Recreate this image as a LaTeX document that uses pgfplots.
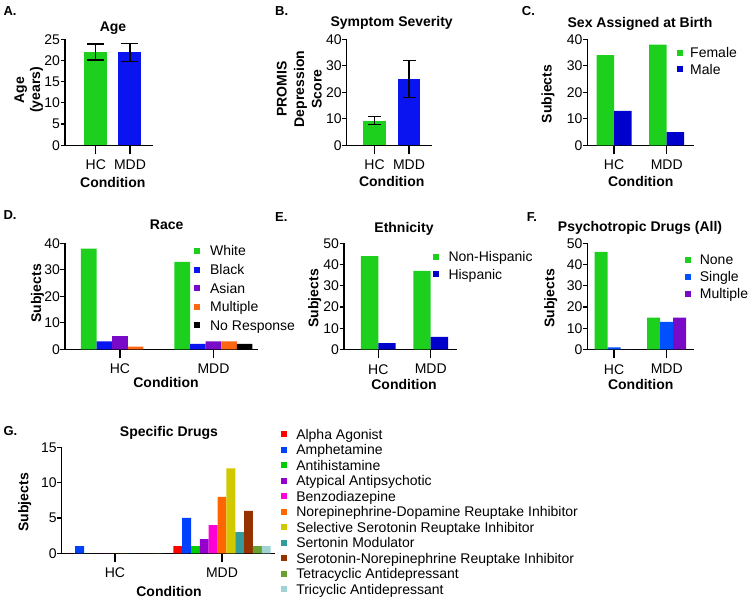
\documentclass[border=0pt]{standalone}
\usepackage{fontspec}
\setmainfont{Liberation Sans}
\usepackage{pgfplots}
\pgfplotsset{compat=1.18}

% colours
\definecolor{gGreen}{RGB}{30,208,30}
\definecolor{gBlue}{RGB}{10,20,240}
\definecolor{gNavy}{RGB}{0,0,205}
\definecolor{gPurple}{RGB}{120,10,200}
\definecolor{gOrange}{RGB}{255,102,20}
\definecolor{gSingle}{RGB}{0,80,255}
\definecolor{dRed}{RGB}{255,0,0}
\definecolor{dBlue}{RGB}{0,64,255}
\definecolor{dGreen}{RGB}{0,204,0}
\definecolor{dPurple}{RGB}{150,0,205}
\definecolor{dMagenta}{RGB}{255,0,215}
\definecolor{dOrange}{RGB}{255,102,0}
\definecolor{dYellow}{RGB}{210,200,0}
\definecolor{dTeal}{RGB}{50,155,155}
\definecolor{dBrown}{RGB}{150,50,0}
\definecolor{dOlive}{RGB}{105,160,50}
\definecolor{dLight}{RGB}{160,212,212}

\newcommand\fs{\fontsize{14}{16}\selectfont}

\pgfplotsset{
  sqleg/.style={legend image code/.code={\fill[##1] (0pt,-3pt) rectangle (6pt,3pt);}},
  bb/.style={fill=#1, draw=none, sqleg},
  gp/.style={
    scale only axis, anchor=south west,
    axis lines=left, axis line style={-, line width=1.2pt},
    ymin=0, enlargelimits=false, tick align=outside,
    xtick={0,1}, xticklabels={HC,MDD},
    xtick style={line width=1.2pt, black, /pgfplots/major tick length=9pt},
    ytick style={line width=1.2pt, black, /pgfplots/major tick length=4.5pt},
    minor tick num=0,
    tick label style={font=\fs},
    xticklabel style={yshift=-7pt},
    yticklabel style={inner xsep=0.5pt},
    /pgf/number format/assume math mode=true,
    legend cell align=left,
    legend style={draw=none, fill=none, inner sep=0pt, anchor=north west,
      nodes={inner sep=0pt, text height=12pt, text depth=2pt, font=\fs}},
  },
  eb/.style={error bars/.cd, y dir=both, y explicit,
    error bar style={line width=1.2pt, black},
    error mark options={rotate=90, mark size=#1, line width=1.2pt, black}},
}
\tikzset{lbl/.style={font=\bfseries\fs, inner sep=0pt, text height=10pt, text depth=0pt},
  let/.style={font=\bfseries\fontsize{13}{15}\selectfont, inner sep=0pt, anchor=west}}

\begin{document}
\begin{tikzpicture}
\useasboundingbox (0,0) rectangle (750pt,600pt);

% A. Age
\begin{axis}[gp, at={(65pt,454.7pt)}, width=87.7pt, height=106pt,
  xmin=-0.9006, xmax=1.664, ymax=25, ytick={0,5,...,25}, ybar]
\addplot[bb=gGreen, bar width=23pt, bar shift=0pt, eb=8.5pt] coordinates {(0,22) +- (0,1.9)};
\addplot[bb=gBlue, bar width=23pt, bar shift=0pt, eb=8.5pt] coordinates {(1,21.9) +- (0,2.1)};
\end{axis}

% B. Symptom severity
\begin{axis}[gp, at={(346.7pt,454.7pt)}, width=85pt, height=106pt,
  xmin=-0.806, xmax=1.658, ymax=40, ytick={0,10,...,40}, ybar]
\addplot[bb=gGreen, bar width=22.5pt, bar shift=0pt, eb=6.5pt] coordinates {(0,9.3) +- (0,1.5)};
\addplot[bb=gBlue, bar width=22.5pt, bar shift=0pt, eb=6.5pt] coordinates {(1,25) +- (0,6.9)};
\end{axis}

% C. Sex
\begin{axis}[gp, at={(587.3pt,454.7pt)}, width=106.7pt, height=106pt,
  xmin=-0.507, xmax=1.518, ymax=40, ytick={0,10,...,40}, ybar=0pt, bar width=17.5pt,
  legend style={at={(0.838,0.940)}, row sep=2.3pt, column sep=7.3pt}]
\addplot[bb=gGreen] coordinates {(0,34) (1,38)};
\addplot[bb=gNavy] coordinates {(0,13) (1,5)};
\legend{Female,Male}
\end{axis}

% D. Race
\begin{axis}[gp, at={(65pt,250.7pt)}, width=193pt, height=106pt,
  xmin=-0.588, xmax=1.476, ymax=40, ytick={0,10,...,40}, ybar=0pt, bar width=15.6pt,
  legend style={at={(0.668,0.996)}, row sep=4.6pt, column sep=10pt}]
\addplot[bb=gGreen] coordinates {(0,38) (1,33)};
\addplot[bb=gBlue] coordinates {(0,3) (1,2)};
\addplot[bb=gPurple] coordinates {(0,5) (1,3)};
\addplot[bb=gOrange] coordinates {(0,1) (1,3)};
\addplot[bb=black] coordinates {(0,0) (1,2)};
\legend{White,Black,Asian,Multiple,No Response}
\end{axis}

% E. Ethnicity
\begin{axis}[gp, at={(344pt,250.5pt)}, width=113.3pt, height=106.2pt,
  xmin=-0.655, xmax=1.508, ymax=50, ytick={0,10,...,50}, ybar=0pt, bar width=17.4pt,
  legend style={at={(0.7855,0.940)}, row sep=3.3pt, column sep=9.3pt}]
\addplot[bb=gGreen] coordinates {(0,44) (1,37)};
\addplot[bb=gNavy] coordinates {(0,3) (1,6)};
\legend{Non-Hispanic,Hispanic}
\end{axis}

% F. Psychotropic drugs
\begin{axis}[gp, at={(587.3pt,250.5pt)}, width=106.7pt, height=106.2pt,
  xmin=-0.507, xmax=1.518, ymax=50, ytick={0,10,...,50}, ybar=0pt, bar width=13pt,
  legend style={at={(0.916,0.915)}, row sep=3pt, column sep=8.6pt}]
\addplot[bb=gGreen] coordinates {(0,46) (1,15)};
\addplot[bb=gSingle] coordinates {(0,1) (1,13)};
\addplot[bb=gPurple] coordinates {(0,0) (1,15)};
\legend{None,Single,Multiple}
\end{axis}

% G. Specific drugs
\begin{axis}[gp, at={(61.7pt,46.7pt)}, width=213.3pt, height=106pt,
  xmin=-0.498, xmax=1.495, ymax=15, ytick={0,5,10,15}, ybar=0pt, bar width=8.85pt,
  legend style={at={(1.027,1.192)}, row sep=1.5pt, column sep=9.3pt}]
\addplot[bb=dRed] coordinates {(0,0) (1,1)};
\addplot[bb=dBlue] coordinates {(0,1) (1,5)};
\addplot[bb=dGreen] coordinates {(0,0) (1,1)};
\addplot[bb=dPurple] coordinates {(0,0) (1,2)};
\addplot[bb=dMagenta] coordinates {(0,0) (1,4)};
\addplot[bb=dOrange] coordinates {(0,0) (1,8)};
\addplot[bb=dYellow] coordinates {(0,0) (1,12)};
\addplot[bb=dTeal] coordinates {(0,0) (1,3)};
\addplot[bb=dBrown] coordinates {(0,0) (1,6)};
\addplot[bb=dOlive] coordinates {(0,0) (1,1)};
\addplot[bb=dLight] coordinates {(0,0) (1,1)};
\legend{Alpha Agonist,Amphetamine,Antihistamine,Atypical Antipsychotic,Benzodiazepine,
  Norepinephrine-Dopamine Reuptake Inhibitor,Selective Serotonin Reuptake Inhibitor,
  Sertonin Modulator,Serotonin-Norepinephrine Reuptake Inhibitor,
  Tetracyclic Antidepressant,Tricyclic Antidepressant}
\end{axis}

% panel letters, titles and axis labels
\node[let] at (3.3pt,588.5pt) {A.};
\node[let] at (275pt,588.5pt) {B.};
\node[let] at (521.7pt,588.5pt) {C.};
\node[let] at (3.3pt,385pt) {D.};
\node[let] at (275pt,382.5pt) {E.};
\node[let] at (526.7pt,382.5pt) {F.};
\node[let] at (3.3pt,169.2pt) {G.};

\node[lbl] at (113pt,573pt) {Age};
\node[lbl] at (391.7pt,578.3pt) {Symptom Severity};
\node[lbl] at (640pt,577.3pt) {Sex Assigned at Birth};
\node[lbl] at (166.7pt,375pt) {Race};
\node[lbl] at (404pt,372.7pt) {Ethnicity};
\node[lbl] at (640pt,373.3pt) {Psychotropic Drugs (All)};
\node[lbl] at (169pt,168.3pt) {Specific Drugs};

\node[font=\bfseries\fs, align=center, rotate=90, inner sep=0pt] at (28.7pt,510pt) {Age\\(years)};
\node[font=\bfseries\fontsize{14}{17.5}\selectfont, align=center, rotate=90, inner sep=0pt] at (299.4pt,511pt) {PROMIS\\Depression\\Score};
\node[lbl, rotate=90] at (546.7pt,506pt) {Subjects};
\node[lbl, rotate=90] at (36pt,306.7pt) {Subjects};
\node[lbl, rotate=90] at (313.3pt,301.7pt) {Subjects};
\node[lbl, rotate=90] at (549.3pt,301.7pt) {Subjects};
\node[lbl, rotate=90] at (23.3pt,97.7pt) {Subjects};

\node[lbl] at (112.8pt,417.3pt) {Condition};
\node[lbl] at (391.7pt,418.3pt) {Condition};
\node[lbl] at (640.7pt,418.3pt) {Condition};
\node[lbl] at (166pt,217.3pt) {Condition};
\node[lbl] at (404pt,215.7pt) {Condition};
\node[lbl] at (640.7pt,215.7pt) {Condition};
\node[lbl] at (169pt,9pt) {Condition};
\end{tikzpicture}
\end{document}
